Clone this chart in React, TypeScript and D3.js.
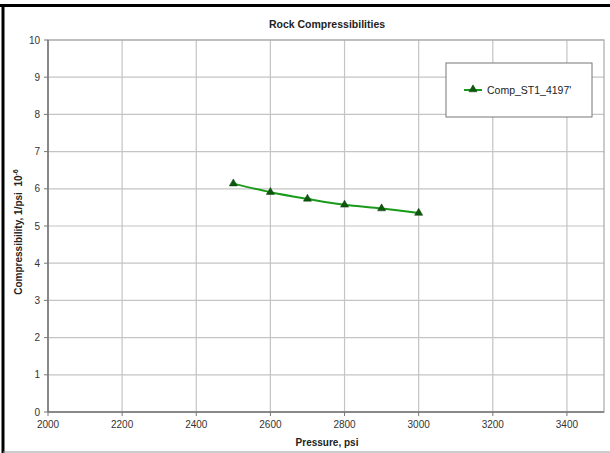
import React from "react";
import * as d3 from "d3";

const pressure = [2500, 2600, 2700, 2800, 2900, 3000];
const compressibility = [6.14, 5.91, 5.73, 5.57, 5.47, 5.35];
const xTicks = [2000, 2200, 2400, 2600, 2800, 3000, 3200, 3400];
const yTicks = [0, 1, 2, 3, 4, 5, 6, 7, 8, 9, 10];
const seriesName = "Comp_ST1_4197'";

const W = 610, H = 453;
const L = 48, R = 604, T = 40, B = 412;

export default function App() {
  const x = d3.scaleLinear().domain([2000, 3500]).range([L, R]);
  const y = d3.scaleLinear().domain([0, 10]).range([B, T]);
  const line = d3.line<number>().x((_, i) => x(pressure[i])).y((d) => y(d)).curve(d3.curveMonotoneX);
  const tri = d3.symbol().type(d3.symbolTriangle).size(28)();
  const font = "Arial, 'Liberation Sans', sans-serif";
  return (
    <svg width={W} height={H} style={{ position: "absolute", left: 0, top: 0 }} fontFamily={font}>
      <rect x={0} y={0} width={W} height={H} fill="#fff" />
      {/* outer frame */}
      <line x1={0} x2={W} y1={5.5} y2={5.5} stroke="#000" strokeWidth={3} />
      <line x1={3} x2={3} y1={4} y2={H} stroke="#000" strokeWidth={3} />
      <line x1={3} x2={W} y1={452} y2={452} stroke="#999" strokeWidth={1} />
      {/* grid */}
      {xTicks.map((t) => (
        <line key={"gx" + t} x1={x(t)} x2={x(t)} y1={T} y2={B} stroke="#c4c4c4" strokeWidth={1.2} />
      ))}
      {yTicks.map((t) => (
        <line key={"gy" + t} x1={L} x2={R} y1={y(t)} y2={y(t)} stroke="#c4c4c4" strokeWidth={1.2} />
      ))}
      <rect x={L} y={T} width={R - L} height={B - T} fill="none" stroke="#a8a8a8" strokeWidth={1.2} />
      {/* axes */}
      <line x1={L} x2={L} y1={T} y2={B} stroke="#777" strokeWidth={1.5} />
      <line x1={L} x2={R} y1={B} y2={B} stroke="#777" strokeWidth={1.5} />
      {yTicks.map((t) => (
        <g key={"ty" + t}>
          <line x1={L - 4} x2={L} y1={y(t)} y2={y(t)} stroke="#777" />
          <text x={L - 8} y={y(t)} dy="0.35em" textAnchor="end" fontSize={10} fill="#333">{t}</text>
        </g>
      ))}
      {xTicks.map((t) => (
        <g key={"tx" + t}>
          <line x1={x(t)} x2={x(t)} y1={B} y2={B + 4} stroke="#777" />
          <text x={x(t)} y={B + 16} textAnchor="middle" fontSize={10} fill="#333">{t}</text>
        </g>
      ))}
      {/* title */}
      <text x={327} y={28} textAnchor="middle" fontSize={10.5} fontWeight="bold" fill="#222">Rock Compressibilities</text>
      <text x={327} y={446} textAnchor="middle" fontSize={10} fontWeight="bold" fill="#222">Pressure, psi</text>
      <text transform={`translate(22,232) rotate(-90)`} textAnchor="middle" fontSize={10} fontWeight="bold" fill="#222">
        Compressibility, 1/psi&#160;&#160;10<tspan fontSize={7} dy={-4}>-6</tspan>
      </text>
      {/* series */}
      <path d={line(compressibility) || ""} fill="none" stroke="#1a9a1a" strokeWidth={2} />
      {compressibility.map((v, i) => (
        <path key={"m" + i} d={tri || ""} transform={`translate(${x(pressure[i])},${y(v)})`} fill="#0b5a0b" stroke="#0b3a0b" strokeWidth={0.5} />
      ))}
      {/* legend */}
      <rect x={446} y={63} width={146} height={54} fill="#fff" stroke="#777" strokeWidth={1} />
      <line x1={464} x2={482} y1={90} y2={90} stroke="#1a9a1a" strokeWidth={2} />
      <path d={tri || ""} transform="translate(473,89.5)" fill="#0b5a0b" stroke="#0b3a0b" strokeWidth={0.5} />
      <text x={487} y={90} dy="0.35em" fontSize={10.5} fill="#222">{seriesName}</text>
    </svg>
  );
}
